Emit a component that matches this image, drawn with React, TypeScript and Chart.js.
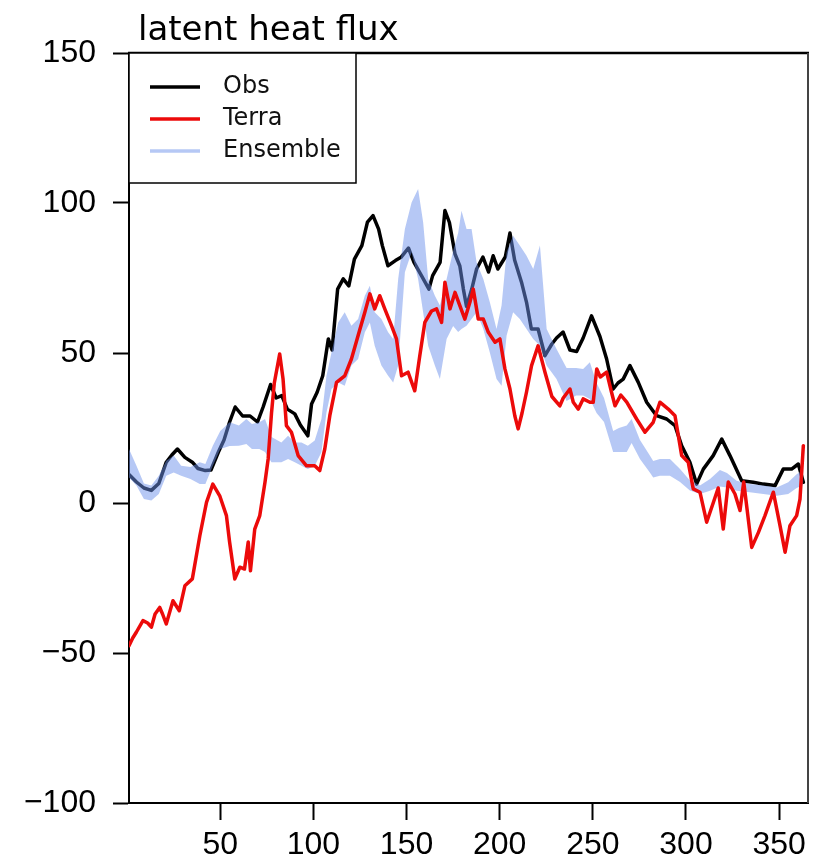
import React, { useEffect, useRef } from "react";
import { Chart, registerables } from "chart.js";

Chart.register(...registerables);

// ---- data ----
const obsDays = [
  1, 5, 9, 13, 17, 21, 24, 27, 31, 35,
  38, 42, 45, 49, 52, 55, 58, 62, 66, 70,
  73, 77, 80, 83, 86, 90, 93, 97, 99, 102,
  105, 108, 110, 113, 116, 119, 122, 126, 129, 132,
  135, 137, 140, 144, 147, 151, 154, 158, 162, 164,
  168, 170.6, 173, 176, 178.6, 180.5, 182.2, 185, 187.6, 191,
  194, 196.5, 199, 203, 205.5, 208, 211.7, 214.4, 217, 220.6,
  224.3, 228, 230.5, 234, 237.7, 241.3, 244.8, 249.3, 253.8, 257.4,
  260.9, 263.5, 266.3, 269.9, 274.4, 278.9, 284.2, 289.6, 294.1, 297.7,
  302.1, 305.7, 309.3, 314.6, 319.2, 323.6, 329.9, 336.1, 341.5, 347.8,
  352.2, 356.7, 360.3, 363,
];
const obsValues = [
  9.5, 7, 5, 4.2, 6.5, 13.6, 16, 18, 15.2, 13.6,
  11.5, 10.8, 11, 17, 21, 27, 32, 29, 29, 27,
  32, 39.5, 35, 35.8, 31.3, 29.7, 26, 22.4, 33, 36.9,
  42.4, 54.7, 51, 71.3, 74.7, 72.4, 81.3, 85.8, 93.6, 95.8,
  91.3, 85.8, 79.1, 80.8, 81.9, 85, 80.2, 75.8, 71.3, 75.8,
  80.2, 97.5, 93.5, 83, 79, 71.3, 65.5, 71.3, 78, 82,
  77, 82.4, 78, 82, 90, 81, 73.6, 66.9, 58, 58,
  49.1, 53, 55, 57, 51, 50.5, 55, 62.4, 55.5, 48,
  38, 40, 41.3, 45.8, 40.2, 33.6, 29.1, 28, 25.8, 19.1,
  13.6, 6.3, 11.3, 15.8, 21.3, 15.8, 7.4, 6.9, 6.3, 5.8,
  11.3, 11.3, 13, 6.9,
];

const terraDays = [
  1, 3, 5, 8.5, 11, 13, 15, 17.5, 19, 21,
  24.6, 28, 31, 35, 39, 42.6, 46, 49.7, 53.3, 55,
  57.8, 60.5, 63, 65, 66.2, 68.5, 71.2, 74, 75.7, 77.5,
  79, 81.9, 83.7, 85.5, 88.2, 91.8, 96.3, 100.7, 103.4, 106.1,
  108.8, 112.4, 116.8, 120.4, 124, 127.6, 130.3, 132.9, 135.6, 138.3,
  141.9, 144.6, 147.3, 150.8, 154.4, 157.1, 159.8, 163.4, 166.1, 168.8,
  170.6, 173.3, 176, 178.6, 181.3, 184, 185.8, 188.5, 191.2, 193.9,
  197.5, 200.1, 202.8, 205.5, 208.1, 209.9, 212, 214.4, 217.1, 220.6,
  224.3, 228, 232.3, 234.1, 237.7, 239.5, 242.2, 244.8, 248.4, 250.2,
  252.1, 254, 257.4, 260, 261.9, 265, 268.2, 273.5, 278, 282.4,
  286, 290.5, 294.1, 297.7, 301.2, 303.9, 307.5, 311.1, 314.6, 317.3,
  320, 322.7, 326.3, 329, 331, 335.3, 338.9, 342.4, 346.9, 350.5,
  353.2, 355.8, 359.4, 361.2, 363,
];
const terraValues = [
  -47.6, -45, -43, -39.2, -40, -41.4, -37, -34.8, -37, -40.3,
  -32.6, -35.9, -27.6, -25.3, -11, 0.2, 6.3, 2.4, -4.2, -13,
  -25.3, -21.4, -22, -13, -22.6, -8.7, -4.2, 6.9, 14.7, 30,
  40, 49.7, 41.3, 25.8, 23.6, 15.8, 12.4, 12.4, 10.8, 18,
  29.1, 40.2, 42.4, 48, 55.8, 63.6, 69.7, 64.7, 69.1, 64.7,
  59.1, 54.7, 42.4, 43.6, 37.4, 49.1, 60.2, 64, 64.7, 60.2,
  73.6, 64.7, 70.2, 65.8, 61.3, 66.9, 71.3, 61.3, 61.3, 56.9,
  53.6, 54.7, 44.7, 38, 29.1, 24.7, 30, 37, 45.8, 52.4,
  43.6, 35.5, 32.4, 35, 38, 33.6, 31.3, 34.7, 33.6, 33.6,
  44.7, 42, 43.6, 37, 32.4, 36, 33.6, 28, 23.6, 26.9,
  33.6, 31.3, 29.1, 15.8, 13.6, 4.7, 3.6, -6.4, 0, 5,
  -8.7, 7, 3, -2.5, 7, -14.8, -9.8, -4.2, 3.6, -7.6,
  -16.4, -7.6, -4.2, 1.3, 19.1,
];

const ensDays = [
  1, 5, 9, 13, 17, 21, 25, 29, 34, 39,
  42, 46, 50, 55, 60, 64, 67, 71, 74, 77.5,
  82.8, 86.4, 90, 93.6, 97, 100.7, 104.3, 107, 109.7, 113.3,
  116.8, 120.4, 124, 127.6, 130.3, 132.9, 136.5, 140.1, 142.8, 145.5,
  149.1, 152.7, 156.2, 158.9, 161.6, 165.2, 167.9, 171.5, 175, 177.7,
  179.5, 182.2, 184.9, 187.6, 191.2, 194.7, 198.3, 201, 203.7, 207.2,
  210.8, 214.4, 218, 221.6, 225.2, 230.5, 235.9, 241, 244.8, 248.4,
  252, 256, 260.9, 264, 268.2, 270.8, 275.3, 280.6, 282.4, 286,
  291.4, 296.8, 302.1, 307.5, 312.9, 318.2, 322, 327.2, 334.3, 341.5,
  348.7, 354.9, 359.4, 363,
];
const ensLower = [
  8.5, 5.8, 1.3, 0.8, 3, 9.1, 10.2, 9.1, 8, 6.3,
  6.3, 12.4, 18, 19, 19.1, 19.7, 18, 18, 17, 13.6,
  13.6, 14.7, 13.6, 12.4, 11.3, 12.4, 16.9, 30.2, 38, 40.2,
  39.1, 45.8, 48, 56.9, 60.2, 52.4, 45.8, 42.4, 40.2, 45.8,
  76.9, 83.6, 74.7, 63.6, 52.4, 45.8, 41.3, 54.7, 59, 57,
  58, 59.1, 61.3, 63.6, 58, 50.2, 41.3, 39.1, 55.8, 63.6,
  61.3, 58, 54.7, 52.4, 45.8, 41.3, 34, 35.8, 35.8, 34.7,
  30, 27, 17, 17, 17, 20, 14.7, 10.2, 8.5, 9.1,
  9.1, 7, 4.2, 3, 4.1, 5.5, 5.2, 4.1, 3.6, 3,
  2.4, 3, 5, 6,
];
const ensUpper = [
  18, 12.4, 6.5, 5.8, 9.1, 14.1, 15.8, 12.4, 12, 13.6,
  13, 19.1, 24, 26.9, 25.8, 28, 26.3, 26.9, 28, 22,
  20.2, 22.4, 20.2, 20.2, 19.1, 20.8, 28, 42.4, 50.2, 60.2,
  63.6, 59.1, 61.3, 69.1, 72.4, 63.6, 61.3, 56.9, 54.7, 74.7,
  91.3, 100.2, 104.7, 93.6, 74.7, 69.1, 65.8, 74.7, 84, 90,
  97.4, 91.3, 91.3, 80.2, 74.7, 66.9, 58, 65.8, 83.6, 89.1,
  85.8, 82.4, 78, 85.8, 58, 51.3, 45, 45, 44.7, 46.9,
  40, 35, 24, 25, 25.8, 28, 21, 15.8, 14, 14.7,
  14.7, 11.3, 7.5, 5.8, 8, 11, 10, 7.4, 6.3, 5.8,
  5.2, 6.9, 9.6, 11,
];

const xTickValues = [50, 100, 150, 200, 250, 300, 350];
const yTickValues = [-100, -50, 0, 50, 100, 150];
const seriesNames = ["Obs", "Terra", "Ensemble"];
const titleText = "latent heat flux";

const OBS_COLOR = "#000000";
const TERRA_COLOR = "#ec0a0a";
const BAND_FILL = "rgba(110,145,235,0.5)";
const BAND_LEGEND = "rgb(182,200,245)";
const FONT = "'DejaVu Sans', sans-serif";
const TICK_FONT = "'Liberation Sans', Arial, sans-serif";

function pts(xs: number[], ys: number[]) {
  return xs.map((x, i) => ({ x, y: ys[i] }));
}

const decorPlugin = {
  id: "decor",
  afterDraw(chart: any) {
    const { ctx, chartArea } = chart;
    const { left, right, top, bottom } = chartArea;
    ctx.save();
    // frame: top and right
    ctx.strokeStyle = "#000";
    ctx.lineWidth = 2.5;
    ctx.beginPath();
    ctx.moveTo(left - 1, top);
    ctx.lineTo(right + 1, top);
    ctx.stroke();
    ctx.strokeStyle = "#444";
    ctx.lineWidth = 2;
    ctx.beginPath();
    ctx.moveTo(right, top);
    ctx.lineTo(right, bottom);
    ctx.stroke();

    // title
    ctx.fillStyle = "#000";
    ctx.font = `34px ${FONT}`;
    ctx.textAlign = "left";
    ctx.textBaseline = "alphabetic";
    ctx.fillText(titleText, left + 9, 40);

    // legend box
    const bx = left;
    const by = top;
    const bw = 227;
    const bh = 130;
    ctx.fillStyle = "#fff";
    ctx.fillRect(bx, by, bw, bh);
    ctx.strokeStyle = "#000";
    ctx.lineWidth = 1.5;
    ctx.strokeRect(bx, by, bw, bh);

    const colors = [OBS_COLOR, TERRA_COLOR, BAND_LEGEND];
    const rowY = [by + 34, by + 66, by + 98];
    ctx.font = `24px ${FONT}`;
    ctx.textBaseline = "middle";
    seriesNames.forEach((name, i) => {
      ctx.strokeStyle = colors[i];
      ctx.lineWidth = 3.5;
      ctx.beginPath();
      ctx.moveTo(bx + 21, rowY[i]);
      ctx.lineTo(bx + 71, rowY[i]);
      ctx.stroke();
      ctx.fillStyle = "#111";
      ctx.fillText(name, bx + 94, rowY[i]);
    });
    ctx.restore();
  },
};

export default function App() {
  const canvasRef = useRef<HTMLCanvasElement | null>(null);

  useEffect(() => {
    if (!canvasRef.current) return;
    const chart = new Chart(canvasRef.current, {
      type: "line",
      data: {
        datasets: [
          {
            label: "Terra",
            data: pts(terraDays, terraValues),
            borderColor: TERRA_COLOR,
            borderWidth: 3.5,
            pointRadius: 0,
            tension: 0,
            fill: false,
            order: 0,
          },
          {
            label: "Ensemble upper",
            data: pts(ensDays, ensUpper),
            borderColor: "rgba(0,0,0,0)",
            borderWidth: 0,
            backgroundColor: BAND_FILL,
            pointRadius: 0,
            tension: 0,
            fill: 2,
            order: 1,
          },
          {
            label: "Ensemble lower",
            data: pts(ensDays, ensLower),
            borderColor: "rgba(0,0,0,0)",
            borderWidth: 0,
            pointRadius: 0,
            tension: 0,
            fill: false,
            order: 2,
          },
          {
            label: "Obs",
            data: pts(obsDays, obsValues),
            borderColor: OBS_COLOR,
            borderWidth: 3.5,
            pointRadius: 0,
            tension: 0,
            fill: false,
            order: 3,
          },
        ],
      },
      options: {
        animation: false,
        responsive: false,
        devicePixelRatio: 1,
        layout: { padding: { top: 53, right: 11, left: 0, bottom: 0 } },
        plugins: {
          legend: { display: false },
          title: { display: false },
          tooltip: { enabled: false },
        },
        elements: { line: { borderJoinStyle: "round", borderCapStyle: "round" } },
        scales: {
          x: {
            type: "linear",
            min: 1,
            max: 365.5,
            afterBuildTicks: (scale: any) => {
              scale.ticks = xTickValues.map((v) => ({ value: v }));
            },
            afterFit: (scale: any) => {
              scale.height = 62;
            },
            grid: {
              drawOnChartArea: false,
              drawTicks: true,
              tickLength: 17,
              tickWidth: 2,
              tickColor: "#000",
            },
            border: { display: true, color: "#000", width: 2 },
            ticks: {
              autoSkip: false,
              maxRotation: 0,
              padding: 6,
              color: "#000",
              font: { family: TICK_FONT, size: 32 },
              callback: (v: any) => String(v),
            },
          },
          y: {
            type: "linear",
            min: -100,
            max: 150,
            afterBuildTicks: (scale: any) => {
              scale.ticks = yTickValues.map((v) => ({ value: v }));
            },
            afterFit: (scale: any) => {
              scale.width = 129;
            },
            grid: {
              drawOnChartArea: false,
              drawTicks: true,
              tickLength: 16,
              tickWidth: 2,
              tickColor: "#000",
            },
            border: { display: true, color: "#000", width: 2 },
            ticks: {
              padding: 17,
              color: "#000",
              font: { family: TICK_FONT, size: 32 },
              callback: (v: any) => String(v).replace("-", "\u2212"),
            },
          },
        },
      },
      plugins: [decorPlugin],
    });
    return () => chart.destroy();
  }, []);

  return (
    <div style={{ position: "fixed", left: 0, top: 0, width: 819, height: 865, background: "#fff" }}>
      <canvas ref={canvasRef} width={819} height={865} style={{ display: "block" }} />
    </div>
  );
}
